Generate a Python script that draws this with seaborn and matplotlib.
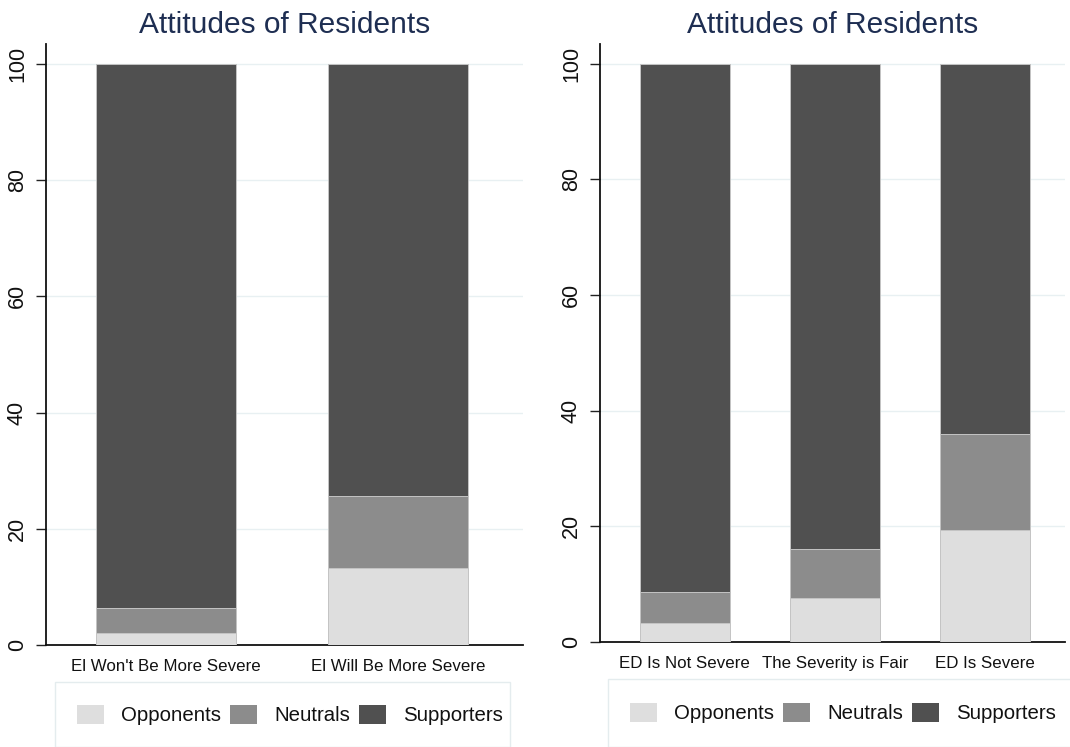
import matplotlib
matplotlib.use("Agg")
import matplotlib.pyplot as plt
from matplotlib.patches import Patch, Rectangle
import seaborn as sns
import pandas as pd

# Share of residents (%) in each attitude group
left_categories = ["El Won't Be More Severe", "El Will Be More Severe"]
left_opponents = [2.0, 13.2]
left_neutrals = [4.4, 12.4]
left_supporters = [93.6, 74.4]

right_categories = ["ED Is Not Severe", "The Severity is Fair", "ED Is Severe"]
right_opponents = [3.2, 7.6, 19.3]
right_neutrals = [5.5, 8.4, 16.6]
right_supporters = [91.3, 84.0, 64.1]

group_names = ["Opponents", "Neutrals", "Supporters"]
group_colors = ["#dedede", "#8c8c8c", "#505050"]
y_ticks = [0, 20, 40, 60, 80, 100]
title_text = "Attitudes of Residents"

sns.set_theme(style="white")
plt.rcParams["font.family"] = ["Liberation Sans", "DejaVu Sans"]

TITLE_COLOR = "#1e2e52"
GRID_COLOR = "#e8f0f2"
EDGE_COLOR = "#c4c4c4"

fig = plt.figure(figsize=(10.70, 7.47), dpi=100)
ax_left = fig.add_axes([46 / 1070, 1 - 645 / 747, 477 / 1070, 601 / 747])
ax_right = fig.add_axes([600 / 1070, 1 - 642 / 747, 465 / 1070, 598 / 747])


def stacked_panel(ax, cats, opp, neu, sup, xlim):
    df = pd.DataFrame({"cat": cats, "opp": opp, "neu": neu, "sup": sup})
    df["neu_top"] = df["opp"] + df["neu"]
    df["sup_top"] = df["neu_top"] + df["sup"]
    # draw tallest layer first so the lower layers sit on top of it
    for col, color in zip(["sup_top", "neu_top", "opp"], group_colors[::-1]):
        sns.barplot(data=df, x="cat", y=col, order=cats, color=color,
                    width=0.6, edgecolor=EDGE_COLOR, linewidth=0.7,
                    saturation=1, ax=ax, zorder=3)
    ax.set_xlim(*xlim)
    ax.set_ylim(0, 103.4)
    ax.set_yticks(y_ticks)
    ax.set_yticklabels([str(t) for t in y_ticks], rotation=90, va="center",
                       fontsize=15.5, color="#111111")
    ax.tick_params(axis="y", length=7, width=1.0, pad=6, color="#222222", left=True)
    ax.tick_params(axis="x", length=0, pad=10, labelsize=12.2, labelcolor="#111111")
    ax.set_xlabel("")
    ax.set_ylabel("")
    ax.grid(axis="y", color=GRID_COLOR, linewidth=1.0, zorder=0)
    ax.grid(axis="x", visible=False)
    for side in ["top", "right"]:
        ax.spines[side].set_visible(False)
    for side in ["left", "bottom"]:
        ax.spines[side].set_color("#111111")
        ax.spines[side].set_linewidth(1.3)
    ax.set_title(title_text, fontsize=21.5, color=TITLE_COLOR, pad=8)


stacked_panel(ax_left, left_categories, left_opponents, left_neutrals,
              left_supporters, (-0.517, 1.539))
stacked_panel(ax_right, right_categories, right_opponents, right_neutrals,
              right_supporters, (-0.565, 2.535))

handles = [Patch(facecolor=c, edgecolor="none") for c in group_colors]


def legend_box(x0_px, y0_px, x1_px, handle_x_px, center_y_px):
    fig.patches.append(Rectangle((x0_px / 1070, 0), (x1_px - x0_px) / 1070,
                                 1 - y0_px / 747, transform=fig.transFigure,
                                 facecolor="white", edgecolor="#e4ecee",
                                 linewidth=1.0, zorder=0))
    fig.legend(handles, group_names, loc="center left",
               bbox_to_anchor=(handle_x_px / 1070, 1 - center_y_px / 747),
               ncol=3, frameon=False, fontsize=14.7, borderpad=0,
               borderaxespad=0, handlelength=1.3, handleheight=1.05,
               handletextpad=0.85, columnspacing=0.45, labelcolor="#111111")


legend_box(55, 682, 510, 77, 715)
legend_box(608, 679, 1075, 630, 713)

fig.savefig("out.png", dpi=100)
